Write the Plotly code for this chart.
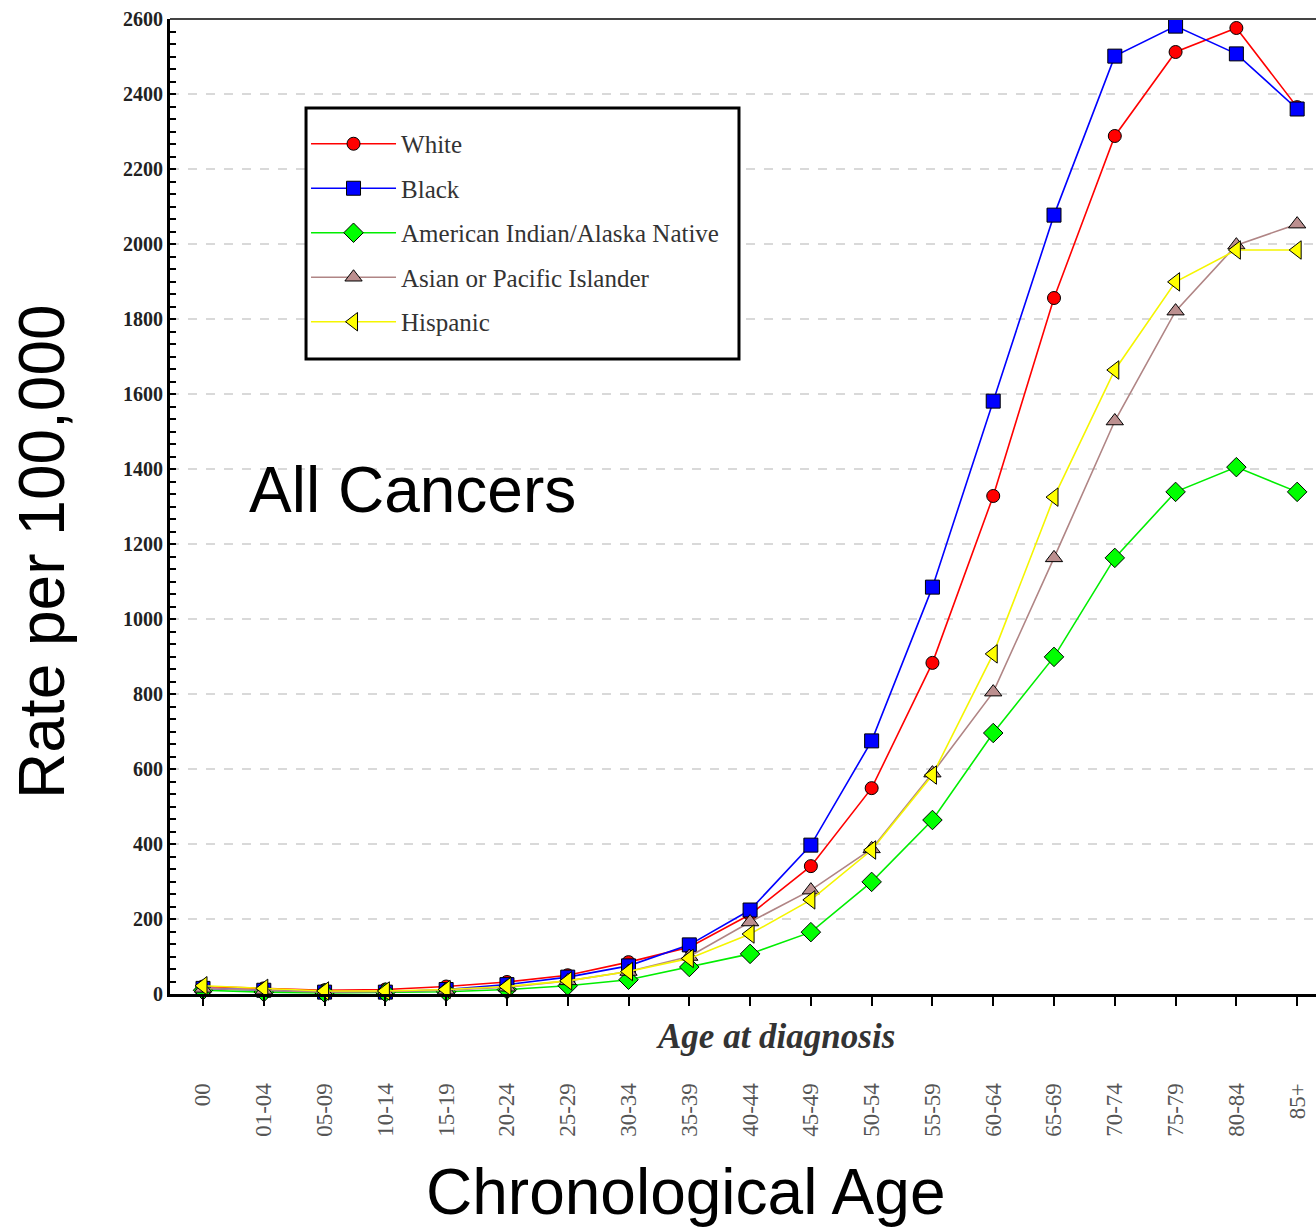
import plotly.graph_objects as go

age_groups = ["00", "01-04", "05-09", "10-14", "15-19", "20-24", "25-29", "30-34",
              "35-39", "40-44", "45-49", "50-54", "55-59", "60-64", "65-69",
              "70-74", "75-79", "80-84", "85+"]

white = [20, 15, 10, 12, 20, 32, 50, 85, 125, 212, 341, 549, 883, 1328, 1856,
         2288, 2512, 2576, 2365]
black = [15, 10, 5, 5, 12, 25, 45, 75, 131, 224, 397, 675, 1085, 1581, 2077,
         2501, 2581, 2507, 2360]
aian = [10, 5, 3, 4, 6, 12, 22, 38, 72, 107, 165, 299, 464, 696, 899,
        1163, 1339, 1405, 1339]
api = [15, 10, 5, 6, 10, 18, 35, 60, 100, 192, 277, 387, 589, 805, 1163,
       1528, 1821, 1997, 2053]
hispanic = [22, 15, 8, 8, 12, 20, 35, 60, 95, 160, 251, 384, 584, 907, 1325,
            1664, 1899, 1984, 1984]

y_ticks = list(range(0, 2601, 200))

series = [
    ("White", white, "#ff0000", "#ff0000", "circle", 13),
    ("Black", black, "#0000ff", "#0000ff", "square", 14),
    ("American Indian/Alaska Native", aian, "#00ee00", "#00ff00", "diamond", 15),
    ("Asian or Pacific Islander", api, "#b08585", "#bc8f8f", "triangle-up", 15),
    ("Hispanic", hispanic, "#f5f500", "#ffff00", "triangle-left", 16),
]

SERIF = "Liberation Serif, Times New Roman, serif"
SANS = "Liberation Sans, Arial, sans-serif"

fig = go.Figure()
for i, (name, vals, lcol, mcol, sym, sz) in enumerate(series):
    fig.add_trace(go.Scatter(
        x=age_groups, y=vals, name=name, mode="lines+markers",
        line=dict(color=lcol, width=1.6),
        marker=dict(symbol=sym, size=sz, color=mcol,
                    line=dict(color="black", width=1)),
        cliponaxis=False, legendgroup="g%d" % i,
    ))

fig.update_layout(
    width=1316, height=1228,
    margin=dict(l=170, r=0, t=19, b=234),
    paper_bgcolor="white", plot_bgcolor="white",
    showlegend=True,
    legend=dict(
        x=0.1187, y=0.8954, xanchor="left", yanchor="top",
        borderwidth=0, bgcolor="rgba(0,0,0,0)",
        font=dict(family=SERIF, size=25, color="#333333"),
        tracegroupgap=9, itemwidth=85,
    ),
    xaxis=dict(
        type="category", range=[-0.543, 18.31],
        showline=True, linecolor="black", linewidth=3,
        ticks="outside", ticklen=9, tickwidth=2, tickcolor="black",
        tickangle=-90, ticklabelstandoff=68,
        tickfont=dict(family=SERIF, size=23, color="#555555"),
        showgrid=False, zeroline=False,
    ),
    yaxis=dict(
        range=[0, 2600], tickvals=y_ticks,
        showline=True, linecolor="black", linewidth=3,
        ticks="inside", ticklen=6, tickwidth=2, tickcolor="black",
        tickfont=dict(family=SERIF, size=20, color="#222222", weight="bold"),
        showgrid=True, gridcolor="#d9d9d9", griddash="dash", gridwidth=1.5,
        zeroline=False,
        minor=dict(dtick=200 / 6, ticks="inside", ticklen=6, tickwidth=2,
                   tickcolor="black", showgrid=False),
    ),
    shapes=[
        dict(type="line", xref="paper", yref="paper", x0=0, x1=1, y0=1, y1=1,
             line=dict(color="#444444", width=2)),
        dict(type="rect", xref="paper", yref="paper",
             x0=0.1187, x1=0.4965, y0=0.6513, y1=0.9087, layer="above",
             fillcolor="white", line=dict(color="black", width=3)),
    ],
    annotations=[
        dict(text="<b><i>Age at diagnosis</i></b>", xref="paper", yref="paper",
             x=0.528, y=-0.0441, showarrow=False, xanchor="center", yanchor="middle",
             font=dict(family=SERIF, size=35, color="#333333")),
        dict(text="Chronological Age", xref="paper", yref="paper",
             x=0.450, y=-0.203, showarrow=False, xanchor="center", yanchor="middle",
             font=dict(family=SANS, size=64, color="black")),
        dict(text="Rate per 100,000", xref="paper", yref="paper",
             x=-0.1117, y=0.4544, showarrow=False, xanchor="center", yanchor="middle",
             textangle=-90, font=dict(family=SANS, size=64, color="black")),
        dict(text="All Cancers", xref="paper", yref="paper",
             x=0.212, y=0.517, showarrow=False, xanchor="center", yanchor="middle",
             font=dict(family=SANS, size=64, color="black")),
    ],
)

fig.write_html("out.html")
